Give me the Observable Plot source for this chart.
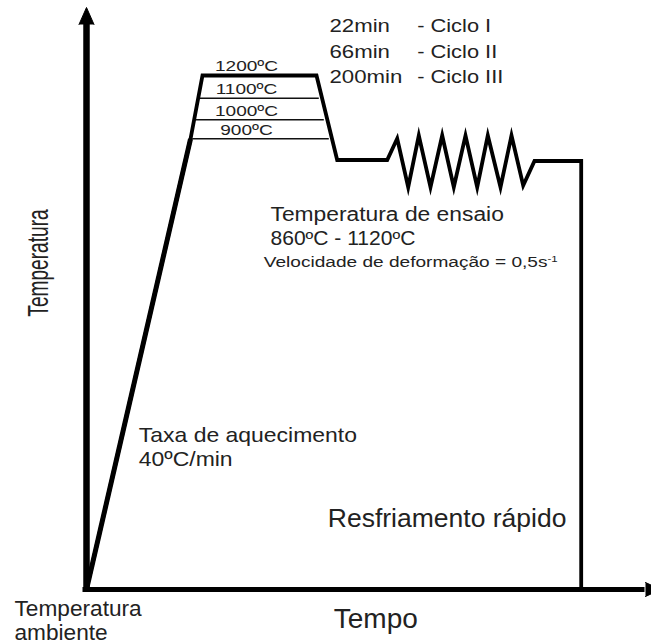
<!DOCTYPE html>
<html>
<head>
<meta charset="utf-8">
<script src="https://cdn.jsdelivr.net/npm/d3@7"></script>
<script src="https://cdn.jsdelivr.net/npm/@observablehq/plot@0.6"></script>
<style>
  body { margin: 0; background: #fff; }
  #chart svg { display: block; }
</style>
</head>
<body>
<div id="chart"></div>
<script>
// ---- schematic thermal cycle (time units / temperature units) ----
const profileTime = [0, 104, 116, 230, 250.7, 300.7, 310.7, 321.7, 332.3, 344, 355.7, 367.3, 379, 390.7, 401.3, 414, 425, 436.7, 448, 494.7, 494.7];
const profileTemp = [0, 450.5, 514, 514, 429.5, 429.5, 451, 402.3, 454, 402.3, 454, 402.3, 454, 402.3, 454, 402.3, 454, 404, 428.5, 428.5, 0];

// soaking levels inside the plateau
const levelLabels = ["1200ºC", "1100ºC", "1000ºC", "900ºC"];
const levelTemp   = [514, 491.3, 469.7, 450.7];
const levelStart  = [116, 112.3, 109, 105.7];
const levelEnd    = [230, 232.3, 237.3, 242.3];

// soaking times
const cycleTimes = ["22min", "66min", "200min"];
const cycleNames = ["- Ciclo I", "- Ciclo II", "- Ciclo III"];

// axes
const axisTimeEnd = 558;
const axisTempEnd = 568;
const upArrowTime = [-7.5, 0, 7.5];
const upArrowTemp = [565, 582, 565];
const rightArrowTime = [559, 574, 559];
const rightArrowTemp = [7, 0, -7];

// texts
const testLabel = "Temperatura de ensaio";
const testRange = "860ºC - 1120ºC";
const strainRate = "Velocidade de deformação = 0,5s";
const strainUnit = "-1";
const heatingLabel = ["Taxa de aquecimento", "40ºC/min"];
const coolingLabel = "Resfriamento rápido";
const xTitle = "Tempo";
const yTitle = "Temperatura";
const originLabel = ["Temperatura", "ambiente"];

const ink = "#000";
const textInk = "#222";

const svg = Plot.plot({
  width: 651,
  height: 643,
  margin: 0,
  x: {domain: [-86, 565], range: [0, 651], axis: null},
  y: {domain: [-54, 589], range: [643, 0], axis: null},
  style: {fontFamily: '"Liberation Sans", Arial, sans-serif', background: "#fff", color: textInk, overflow: "visible"},
  marks: [
    // axes
    Plot.link([0], {x1: 0, x2: 0, y1: -2.5, y2: axisTempEnd, stroke: ink, strokeWidth: 6.5}),
    Plot.link([0], {x1: -4, x2: axisTimeEnd, y1: 0, y2: 0, stroke: ink, strokeWidth: 5}),
    Plot.line(upArrowTime, {x: d => d, y: (d, i) => upArrowTemp[i], fill: ink, stroke: ink, strokeWidth: 1}),
    Plot.line(rightArrowTime, {x: d => d, y: (d, i) => rightArrowTemp[i], fill: ink, stroke: ink, strokeWidth: 1}),

    // soaking levels
    Plot.link(levelLabels, {
      x1: (d, i) => levelStart[i], x2: (d, i) => levelEnd[i],
      y1: (d, i) => levelTemp[i], y2: (d, i) => levelTemp[i],
      stroke: "#111", strokeWidth: 1.4
    }),

    // thermal profile (heating ramp drawn a bit heavier, as in the reference)
    Plot.line(profileTime.slice(0, 2), {
      x: d => d, y: (d, i) => profileTemp[i],
      stroke: ink, strokeWidth: 5, strokeLinecap: "butt"
    }),
    Plot.line(profileTime, {
      x: d => d, y: (d, i) => profileTemp[i],
      stroke: ink, strokeWidth: 3.8, strokeLinejoin: "miter", strokeMiterlimit: 8, strokeLinecap: "butt"
    }),

    // level labels
    Plot.text(levelLabels, {
      x: 160, y: (d, i) => levelTemp[i], dy: -4.3, text: d => d,
      fontSize: 15.5, textAnchor: "middle", lineAnchor: "bottom", fill: textInk, ariaDescription: "levels"
    }),

    // cycles
    Plot.text([cycleTimes.join("\n")], {
      x: 243, y: 506.3, text: d => d, fontSize: 18.5, lineHeight: 1.378,
      textAnchor: "start", lineAnchor: "bottom", fill: textInk, ariaDescription: "cycleTimes"
    }),
    Plot.text([cycleNames.join("\n")], {
      x: 330.7, y: 506.3, text: d => d, fontSize: 18.5, lineHeight: 1.378,
      textAnchor: "start", lineAnchor: "bottom", fill: textInk, ariaDescription: "cycleNames"
    }),

    // test conditions
    Plot.text([testLabel], {x: 184, y: 369, text: d => d, fontSize: 19.5, textAnchor: "start", lineAnchor: "bottom", fill: textInk, ariaDescription: "testLabel"}),
    Plot.text([testRange], {x: 184, y: 344.7, text: d => d, fontSize: 19.5, textAnchor: "start", lineAnchor: "bottom", fill: textInk, ariaDescription: "testRange"}),
    Plot.text([strainRate], {x: 177.3, y: 323, text: d => d, fontSize: 15.4, textAnchor: "start", lineAnchor: "bottom", fill: textInk, ariaDescription: "strainRate"}),

    // heating
    Plot.text([heatingLabel.join("\n")], {
      x: 52.3, y: 124, text: d => d, fontSize: 20.5, lineHeight: 1.17,
      textAnchor: "start", lineAnchor: "bottom", fill: textInk, ariaDescription: "heating"
    }),

    // cooling
    Plot.text([coolingLabel], {x: 241.3, y: 63, text: d => d, fontSize: 26.5, textAnchor: "start", lineAnchor: "bottom", fill: textInk, ariaDescription: "cooling"}),

    // axis titles
    Plot.text([xTitle], {x: 247.3, y: -38.3, text: d => d, fontSize: 28, textAnchor: "start", lineAnchor: "bottom", fill: textInk, ariaDescription: "xTitle"}),
    Plot.text([yTitle], {x: -39, y: 326.5, text: d => d, fontSize: 22, rotate: -90, textAnchor: "middle", lineAnchor: "bottom", fill: textInk, ariaDescription: "yTitle"}),
    Plot.text([originLabel.join("\n")], {
      x: -72, y: -50, text: d => d, fontSize: 22, lineHeight: 1.09,
      textAnchor: "start", lineAnchor: "bottom", fill: textInk, ariaDescription: "origin"
    })
  ]
});

// horizontal glyph widths of the reference lettering
function stretch(label, sx, sy = 1) {
  svg.querySelectorAll(`g[aria-description="${label}"] text`).forEach(t => {
    let tr = t.getAttribute("transform");
    if (!tr) {
      const x = +t.getAttribute("x") || 0, y = +t.getAttribute("y") || 0;
      t.removeAttribute("x"); t.removeAttribute("y");
      tr = `translate(${x},${y})`;
    }
    t.setAttribute("transform", `${tr} scale(${sx},${sy})`);
  });
}

// superscript unit
svg.querySelectorAll('g[aria-description="strainRate"] text').forEach(t => {
  const sup = document.createElementNS("http://www.w3.org/2000/svg", "tspan");
  sup.setAttribute("dy", "-0.5em");
  sup.setAttribute("font-size", "0.6em");
  sup.textContent = strainUnit;
  t.appendChild(sup);
});

stretch("levels", 1.23);
stretch("cycleTimes", 1.2);
stretch("cycleNames", 1.18);
stretch("testLabel", 1.17);
stretch("testRange", 1.08);
stretch("strainRate", 1.24);
stretch("heating", 1.12);
stretch("cooling", 1.0);
stretch("xTitle", 1.0);
stretch("yTitle", 0.87, 1.35);
stretch("origin", 1.03);

document.getElementById("chart").appendChild(svg);
</script>
</body>
</html>
